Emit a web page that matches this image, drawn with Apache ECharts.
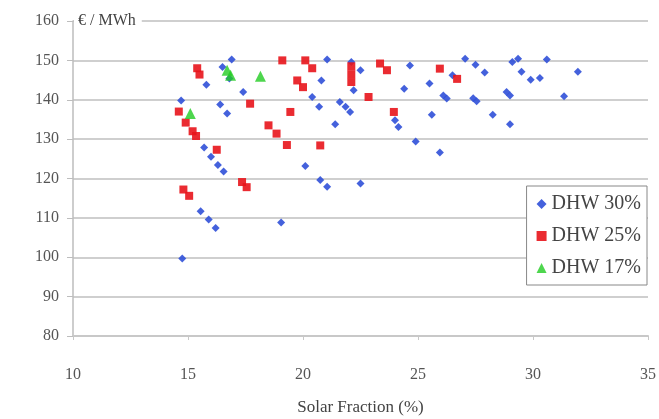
<!DOCTYPE html>
<html>
<head>
<meta charset="utf-8">
<script src="https://cdn.jsdelivr.net/npm/echarts@6/dist/echarts.min.js"></script>
<style>
html,body{margin:0;padding:0;background:#fff;}
#chart{width:659px;height:419px;}
</style>
</head>
<body>
<div id="chart"></div>
<script>
// series names and points [solar fraction %, EUR/MWh]
var seriesNames = ['DHW 30%', 'DHW 25%', 'DHW 17%'];

var dhw30 = [
    [16.9,150.2],[16.5,148.3],[16.8,145.4],[15.8,143.8],[17.4,142.0],[14.7,139.8],
    [16.4,138.8],[16.7,136.5],[15.7,127.9],[16.0,125.5],[16.3,123.4],[16.55,121.8],
    [15.55,111.7],[15.9,109.6],[16.2,107.4],[14.75,99.7],[19.05,108.8],[20.1,123.2],
    [20.75,119.6],[21.05,117.9],[22.5,118.7],[20.4,140.7],[20.7,138.2],[20.8,144.9],
    [21.05,150.2],[22.1,149.6],[22.5,147.5],[22.2,142.4],[21.6,139.4],[21.85,138.2],
    [22.05,136.9],[21.4,133.8],[24.0,134.8],[24.15,133.1],[24.9,129.4],[25.95,126.6],
    [25.6,136.2],[24.4,142.8],[25.5,144.1],[24.65,148.7],[26.1,141.1],[26.25,140.3],
    [26.5,146.2],[27.05,150.4],[27.5,148.9],[27.9,146.9],[27.4,140.4],[27.55,139.6],
    [28.25,136.2],[28.85,142.0],[29.0,141.1],[29.0,133.8],[29.1,149.6],[29.35,150.4],
    [29.5,147.1],[29.9,145.1],[30.3,145.5],[30.6,150.2],[31.95,147.1],[31.35,140.9]
];

var dhw25 = [
    [15.4,148.0],[15.5,146.4],[17.7,139.0],[14.6,137.0],[14.9,134.2],[15.2,132.0],
    [15.35,130.8],[16.25,127.3],[19.45,136.9],[18.5,133.5],[18.85,131.4],[19.3,128.5],
    [19.1,150.0],[20.1,150.0],[20.4,148.0],[19.75,144.9],[20.0,143.2],[20.75,128.4],
    [22.1,148.5],[22.1,146.5],[22.1,144.5],[23.35,149.2],[23.65,147.5],[25.95,147.9],
    [26.7,145.3],[22.85,140.7],[23.95,136.9],[17.35,119.1],[17.55,117.8],[14.8,117.2],
    [15.05,115.6]
];

var dhw17 = [
    [16.7,147.5],[16.85,146.2],[18.15,146.0],[15.1,136.5]
];

var xTicks = { min: 10, max: 35, step: 5 };
var yTicks = { min: 80, max: 160, step: 10 };

var serif = '"Liberation Serif", "DejaVu Serif", serif';
var myChart = echarts.init(document.getElementById('chart'));

var option = {
    animation: false,
    backgroundColor: '#fff',
    title: {
        text: '€ / MWh',
        left: 74,
        top: 11,
        padding: [2, 6, 2, 4],
        backgroundColor: '#fff',
        textStyle: { fontFamily: serif, fontSize: 16, fontWeight: 'normal', color: '#444' }
    },
    grid: { left: 73, right: 11, top: 21, bottom: 83, containLabel: false, outerBoundsMode: 'none' },
    legend: {
        orient: 'vertical',
        right: 12,
        top: 186,
        padding: [8, 6, 7, 10],
        itemGap: 12,
        itemWidth: 10,
        itemHeight: 10,
        backgroundColor: '#fff',
        borderColor: '#888',
        borderWidth: 1,
        textStyle: { fontFamily: serif, fontSize: 20, color: '#444' },
        data: [
            { name: seriesNames[0], icon: 'diamond', itemStyle: { color: '#3050d8' } },
            { name: seriesNames[1], icon: 'rect', itemStyle: { color: '#e8141b' } },
            { name: seriesNames[2], icon: 'triangle', itemStyle: { color: '#22cc22' } }
        ]
    },
    xAxis: {
        type: 'value',
        min: xTicks.min,
        max: xTicks.max,
        interval: xTicks.step,
        name: 'Solar Fraction (%)',
        nameLocation: 'middle',
        nameGap: 63,
        nameTextStyle: { fontFamily: serif, fontSize: 17, color: '#444' },
        axisLine: { show: true, lineStyle: { color: '#c8c8c8', width: 2 } },
        axisTick: { show: true, length: 4, lineStyle: { color: '#c8c8c8' } },
        axisLabel: { margin: 31, fontFamily: serif, fontSize: 16, color: '#555' },
        splitLine: { show: false }
    },
    yAxis: {
        type: 'value',
        min: yTicks.min,
        max: yTicks.max,
        interval: yTicks.step,
        axisLine: { show: true, lineStyle: { color: '#bdbdbd', width: 1.5 } },
        axisTick: { show: true, length: 6, lineStyle: { color: '#bdbdbd' } },
        axisLabel: { margin: 14, fontFamily: serif, fontSize: 16, color: '#555' },
        splitLine: { show: true, lineStyle: { color: '#cfcfcf', width: 2 } }
    },
    series: [
        {
            name: seriesNames[0],
            type: 'scatter',
            symbol: 'diamond',
            symbolSize: 8,
            itemStyle: { color: '#3050d8', opacity: 0.9 },
            data: dhw30
        },
        {
            name: seriesNames[1],
            type: 'scatter',
            symbol: 'rect',
            symbolSize: 8,
            itemStyle: { color: '#e8141b', opacity: 0.9 },
            data: dhw25
        },
        {
            name: seriesNames[2],
            type: 'scatter',
            symbol: 'triangle',
            symbolSize: 11,
            itemStyle: { color: '#22cc22' },
            data: dhw17
        }
    ]
};
myChart.setOption(option);
</script>
</body>
</html>
